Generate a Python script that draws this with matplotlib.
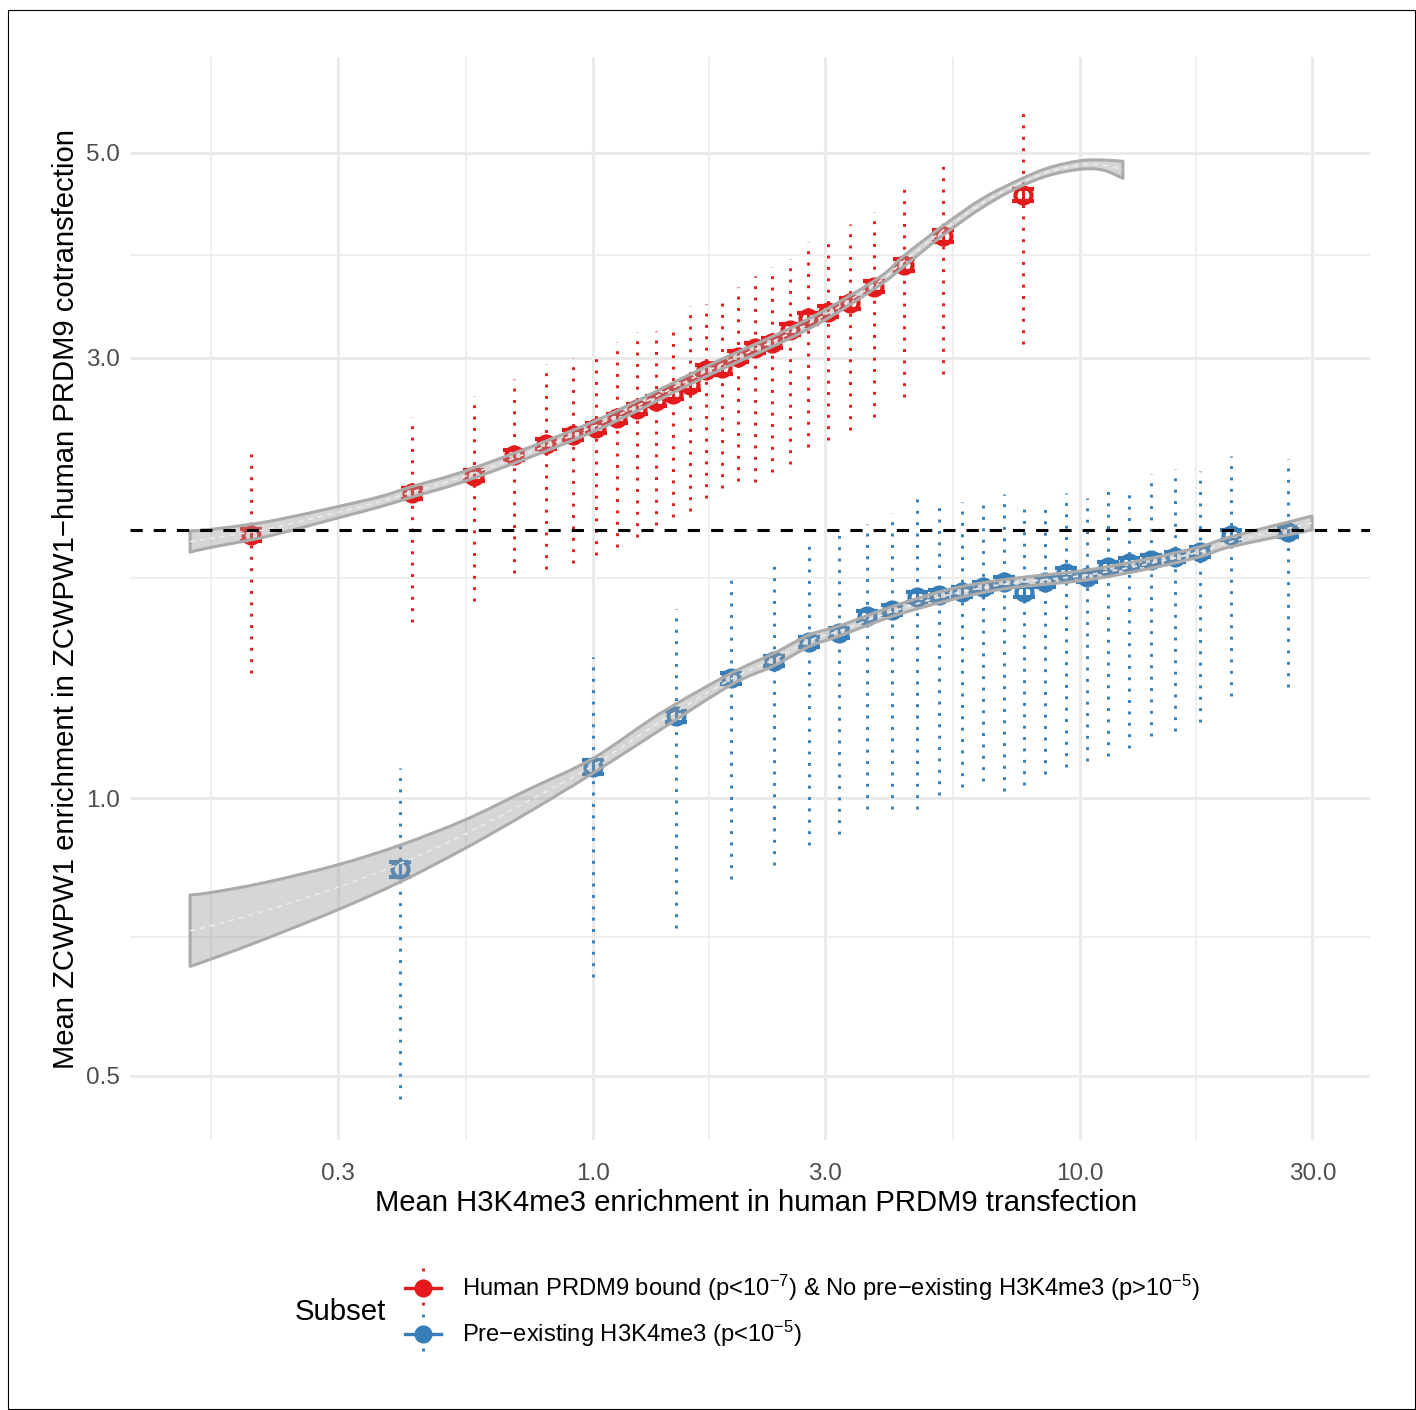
import numpy as np
import matplotlib
matplotlib.use("Agg")
import matplotlib.pyplot as plt
from matplotlib.lines import Line2D
from matplotlib.patches import Rectangle, PathPatch
from matplotlib.path import Path
from matplotlib.ticker import NullLocator

plt.rcParams['font.family'] = ['Liberation Sans', 'DejaVu Sans']
plt.rcParams['mathtext.fontset'] = 'custom'
plt.rcParams['mathtext.rm'] = 'Liberation Sans'
plt.rcParams['mathtext.it'] = 'Liberation Sans:italic'
plt.rcParams['mathtext.bf'] = 'Liberation Sans:bold'

# ---------------- data ----------------
red_x = [0.1985, 0.425, 0.570, 0.688, 0.801, 0.910, 1.014, 1.120, 1.231, 1.347,
         1.460, 1.582, 1.706, 1.840, 1.985, 2.151, 2.331, 2.538, 2.764, 3.042,
         3.367, 3.770, 4.345, 5.226, 7.625]
red_y = [1.928, 2.139, 2.235, 2.353, 2.418, 2.474, 2.519, 2.579, 2.640, 2.693,
         2.738, 2.802, 2.909, 2.922, 3.008, 3.072, 3.115, 3.216, 3.311, 3.365,
         3.436, 3.582, 3.781, 4.068, 4.502]
red_se = [0.03, 0.03, 0.03, 0.03, 0.03, 0.03, 0.03, 0.03, 0.035, 0.035,
          0.035, 0.035, 0.035, 0.04, 0.04, 0.04, 0.04, 0.045, 0.045, 0.045,
          0.05, 0.05, 0.055, 0.06, 0.07]
red_sd_hi = [2.407, 2.590, 2.727, 2.845, 2.953, 2.996, 3.045, 3.118, 3.202, 3.207,
             3.266, 3.416, 3.430, 3.508, 3.576, 3.676, 3.765, 3.835, 4.004, 4.068,
             4.186, 4.313, 4.648, 4.937, 5.622]
red_sd_lo = [1.366, 1.550, 1.634, 1.752, 1.769, 1.796, 1.832, 1.869, 1.919, 1.976,
             2.015, 2.048, 2.115, 2.166, 2.206, 2.202, 2.254, 2.299, 2.401, 2.441,
             2.507, 2.586, 2.718, 2.879, 3.102]

blue_x = [0.4016, 0.998, 1.478, 1.918, 2.350, 2.777, 3.204, 3.658, 4.118, 4.620,
          5.146, 5.714, 6.314, 6.971, 7.683, 8.486, 9.346, 10.32, 11.41, 12.63,
          13.99, 15.67, 17.64, 20.42, 26.78]
blue_y = [0.837, 1.081, 1.227, 1.348, 1.409, 1.477, 1.508, 1.576, 1.599, 1.652,
          1.660, 1.673, 1.694, 1.716, 1.673, 1.716, 1.755, 1.737, 1.781, 1.796,
          1.811, 1.826, 1.849, 1.928, 1.944]
blue_se = [0.016, 0.018, 0.017, 0.018, 0.018, 0.019, 0.019, 0.02, 0.02, 0.02,
           0.02, 0.02, 0.02, 0.021, 0.021, 0.021, 0.021, 0.022, 0.022, 0.022,
           0.022, 0.023, 0.023, 0.024, 0.024]
blue_sd_hi = [1.077, 1.422, 1.602, 1.759, 1.821, 1.912, 1.968, 1.981, 2.035, 2.109,
              2.104, 2.095, 2.121, 2.134, 2.100, 2.100, 2.139, 2.112, 2.196, 2.175,
              2.243, 2.273, 2.263, 2.348, 2.328]
blue_sd_lo = [0.472, 0.639, 0.723, 0.817, 0.847, 0.889, 0.913, 0.973, 0.973, 0.973,
              1.007, 1.029, 1.044, 1.018, 1.032, 1.062, 1.080, 1.098, 1.110, 1.132,
              1.166, 1.182, 1.210, 1.290, 1.318]

# smoothing bands (upper / lower confidence limits)
red_band_x = [0.1488, 0.1643, 0.1985, 0.2277, 0.2980, 0.3652, 0.4249, 0.5697, 1.0,
              1.714, 2.421, 3.038, 3.884, 4.345, 5.159, 6.233, 7.286, 8.552, 10.0,
              11.15, 12.25]
red_band_hi = [1.947, 1.955, 1.980, 2.005, 2.068, 2.121, 2.175, 2.279, 2.557,
               2.938, 3.191, 3.394, 3.670, 3.867, 4.147, 4.446, 4.642, 4.812, 4.904,
               4.913, 4.897]
red_band_lo = [1.847, 1.869, 1.904, 1.936, 2.010, 2.068, 2.119, 2.222, 2.494,
               2.866, 3.112, 3.311, 3.597, 3.765, 4.050, 4.348, 4.559, 4.721, 4.800,
               4.791, 4.693]

blue_band_x = [0.1488, 0.1643, 0.2101, 0.2980, 0.4016, 0.5461, 0.7320, 1.0, 1.373,
               1.920, 2.353, 2.777, 3.201, 4.111, 5.409, 7.083, 10.33, 13.99, 17.64,
               20.42, 29.95]
blue_band_hi = [0.785, 0.790, 0.809, 0.846, 0.889, 0.947, 1.020, 1.104, 1.235,
                1.365, 1.435, 1.502, 1.536, 1.612, 1.684, 1.726, 1.766, 1.819,
                1.872, 1.919, 2.021]
blue_band_lo = [0.657, 0.669, 0.702, 0.756, 0.811, 0.882, 0.963, 1.064, 1.185,
                1.326, 1.391, 1.459, 1.498, 1.573, 1.639, 1.687, 1.723, 1.774,
                1.826, 1.872, 1.952]

ref_level = 1.95

x_ticks = [0.3, 1.0, 3.0, 10.0, 30.0]
x_ticklabels = ["0.3", "1.0", "3.0", "10.0", "30.0"]
x_minor = [0.164, 0.5477, 1.732, 5.477, 17.32]
y_ticks = [0.5, 1.0, 3.0, 5.0]
y_ticklabels = ["0.5", "1.0", "3.0", "5.0"]
y_minor = [0.7071, 1.732, 3.873]

series_labels = [
    "Human PRDM9 bound (p<10$^{-7}$) & No pre\u2212existing H3K4me3 (p>10$^{-5}$)",
    "Pre\u2212existing H3K4me3 (p<10$^{-5}$)",
]
RED = "#E41A1C"
BLUE = "#377EB8"

W, H = 1416, 1410
def fx(px):
    return px / W
def fy(py):
    return 1 - py / H


def catmull_bezier(xs, ys):
    """Smooth drawing path (Catmull-Rom as cubic Bezier) through the given
    vertices, computed in log-log space; returns vertices in data units."""
    P = np.column_stack([np.log10(xs), np.log10(ys)])
    n = len(P)
    verts = [P[0]]
    for i in range(n - 1):
        p0 = P[i - 1] if i > 0 else P[i]
        p1 = P[i]
        p2 = P[i + 1]
        p3 = P[i + 2] if i + 2 < n else P[i + 1]
        c1 = p1 + (p2 - p0) / 6.0
        c2 = p2 - (p3 - p1) / 6.0
        verts.extend([c1, c2, p2])
    verts = 10 ** np.asarray(verts)
    codes = [Path.MOVETO] + [Path.CURVE4] * (len(verts) - 1)
    return verts, codes


fig = plt.figure(figsize=(W / 100, H / 100), dpi=100)
ax = fig.add_axes([fx(130), fy(1140), (1370 - 130) / W, (1140 - 57) / H])
ax.set_xscale('log')
ax.set_yscale('log')
ax.set_xlim(0.1120, 39.4)
ax.set_ylim(0.426, 6.353)
for s in ax.spines.values():
    s.set_visible(False)

# grid
for v in x_ticks:
    ax.axvline(v, color='#ebebeb', lw=2.2, zorder=0)
for v in x_minor:
    ax.axvline(v, color='#ebebeb', lw=1.1, zorder=0)
for v in y_ticks:
    ax.axhline(v, color='#ebebeb', lw=2.2, zorder=0)
for v in y_minor:
    ax.axhline(v, color='#ebebeb', lw=1.1, zorder=0)

ax.set_xticks(x_ticks)
ax.set_xticklabels(x_ticklabels)
ax.set_yticks(y_ticks)
ax.set_yticklabels(y_ticklabels)
ax.xaxis.set_minor_locator(NullLocator())
ax.yaxis.set_minor_locator(NullLocator())
ax.tick_params(axis='both', which='both', length=0, labelsize=17.5, labelcolor='#4d4d4d')
ax.tick_params(axis='x', pad=16.5)
ax.tick_params(axis='y', pad=7)

dots = (0, (1, 2.9))
for xs, ys, se, hi, lo, col in [
        (red_x, red_y, red_se, red_sd_hi, red_sd_lo, RED),
        (blue_x, blue_y, blue_se, blue_sd_hi, blue_sd_lo, BLUE)]:
    ax.vlines(xs, lo, hi, colors=col, linestyles=[dots], lw=2.1, zorder=2)
    ax.errorbar(xs, ys, yerr=se, fmt='o', mfc='none', mec=col, mew=3.0, ms=11.5,
                ecolor=col, elinewidth=2.2, capsize=8, capthick=2.6, zorder=2.5)

for bx, bhi, blo in [(red_band_x, red_band_hi, red_band_lo),
                     (blue_band_x, blue_band_hi, blue_band_lo)]:
    bx = np.asarray(bx); bhi = np.asarray(bhi); blo = np.asarray(blo)
    vu, cu = catmull_bezier(bx, bhi)
    vl, cl = catmull_bezier(bx[::-1], blo[::-1])
    cl = [Path.LINETO] + cl[1:]
    verts = np.vstack([vu, vl, vu[:1]])
    codes = cu + cl + [Path.CLOSEPOLY]
    ax.add_patch(PathPatch(Path(verts, codes), facecolor=(0.6, 0.6, 0.6, 0.4),
                           edgecolor='#ababab', lw=2.2, joinstyle='round', zorder=3))
    vm, cm = catmull_bezier(bx, np.sqrt(bhi * blo))
    ax.add_patch(PathPatch(Path(vm, cm), facecolor='none', edgecolor='#ececec',
                           lw=1.2, ls=(0, (3, 3)), zorder=3.5))

ax.axhline(ref_level, color='black', lw=2.2, ls=(0, (4, 3.6)), zorder=5)

fig.text(fx(756), fy(1203), "Mean H3K4me3 enrichment in human PRDM9 transfection",
         ha='center', va='center', fontsize=21.1, color='black')
fig.text(fx(66), fy(599), "Mean ZCWPW1 enrichment in ZCWPW1\u2212human PRDM9 cotransfection",
         ha='center', va='center', rotation=90, fontsize=21.1, color='black')

# legend
fig.text(fx(295), fy(1312), "Subset", ha='left', va='center', fontsize=21.2)
for yk, col, lab in [(1288, RED, series_labels[0]), (1334, BLUE, series_labels[1])]:
    fig.add_artist(Line2D([fx(423), fx(423)], [fy(yk - 20), fy(yk + 20)],
                          transform=fig.transFigure, color=col, lw=2.1, ls=dots))
    fig.add_artist(Line2D([fx(405), fx(441)], [fy(yk), fy(yk)],
                          transform=fig.transFigure, color=col, lw=2.4))
    fig.add_artist(Line2D([fx(423)], [fy(yk)], transform=fig.transFigure, marker='o',
                          ms=12, mfc=col, mec=col, ls='none'))
    fig.text(fx(462), fy(yk), lab, ha='left', va='center', fontsize=17.1)

fig.add_artist(Rectangle((fx(8), fy(1409)), fx(1415) - fx(8), fy(10) - fy(1409),
                         transform=fig.transFigure, fill=False, edgecolor='black', lw=0.8))

fig.savefig("out.png", dpi=100)
